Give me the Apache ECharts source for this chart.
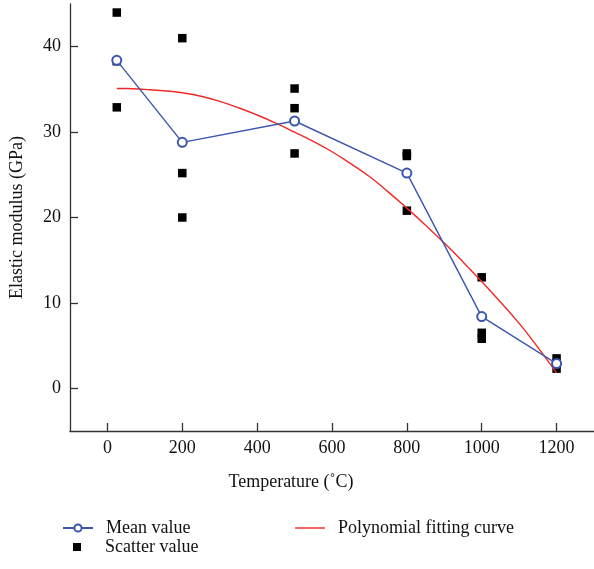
<!DOCTYPE html>
<html>
<head>
<meta charset="utf-8">
<script src="https://cdn.jsdelivr.net/npm/echarts@6/dist/echarts.min.js"></script>
<style>html,body{margin:0;padding:0;background:#fff;}#c{width:594px;height:569px;}</style>
</head>
<body>
<div id="c"></div>
<script>
// Temperatures (°C)
const temperatures = [25, 200, 500, 800, 1000, 1200];
// Mean elastic modulus (GPa)
const meanValues = [38.4, 28.8, 31.3, 25.2, 8.4, 2.9];
// Individual scatter measurements (three specimens per temperature)
const scatterA = [44.0, 41.0, 35.1, 27.5, 13.0, 3.5];
const scatterB = [38.3, 25.2, 32.8, 27.2, 6.5, 2.9];
const scatterC = [32.9, 20.0, 27.5, 20.8, 5.8, 2.3];
// Polynomial fitting curve
const fitX = [25, 50, 100, 150, 200, 250, 300, 350, 400, 450, 500, 550, 600, 650,
              700, 750, 800, 850, 900, 950, 1000, 1050, 1100, 1150, 1200];
const fitY = [35.1, 35.1, 35.0, 34.85, 34.6, 34.2, 33.6, 32.85, 32.0, 31.05, 30.0, 28.9, 27.7, 26.3,
              24.8, 23.0, 21.1, 19.1, 17.0, 14.8, 12.5, 10.1, 7.6, 4.8, 1.8];
// Tick labels
const xTicks = [0, 200, 400, 600, 800, 1000, 1200];
const yTicks = [0, 10, 20, 30, 40];

const FONT = 'Liberation Serif';
const BLUE = '#3b56ad';
const RED = '#f02828';
const AXIS = '#333333';

const scatterData = [];
[scatterA, scatterB, scatterC].forEach(arr => {
  arr.forEach((v, i) => scatterData.push([temperatures[i], v]));
});
const meanData = temperatures.map((t, i) => [t, meanValues[i]]);
const fitData = fitX.map((t, i) => [t, fitY[i]]);

const chart = echarts.init(document.getElementById('c'), null, {renderer: 'canvas'});
const legendText = {fontFamily: FONT, fontSize: 18, color: '#111', padding: [0, 0, 0, 8]};
chart.setOption({
  animation: false,
  backgroundColor: '#fff',
  grid: {left: 69, top: 4, width: 530, height: 427, containLabel: false},
  xAxis: {
    type: 'value', min: -100, max: 1300,
    name: 'Temperature (\u02DAC)', nameLocation: 'middle', nameGap: 42,
    nameTextStyle: {fontFamily: FONT, fontSize: 18, color: '#111', padding: [0, 82, 0, 0]},
    axisLine: {show: true, onZero: false, lineStyle: {color: AXIS, width: 1.3}},
    axisTick: {show: true, inside: true, length: 8, lineStyle: {color: AXIS, width: 1.3}, customValues: xTicks},
    axisLabel: {fontFamily: FONT, fontSize: 18, color: '#111', margin: 8, customValues: xTicks, formatter: v => String(v)},
    splitLine: {show: false}
  },
  yAxis: {
    type: 'value', min: -5, max: 45,
    name: 'Elastic modulus (GPa)', nameLocation: 'middle', nameGap: 44,
    nameTextStyle: {fontFamily: FONT, fontSize: 18, color: '#111'},
    axisLine: {show: true, onZero: false, lineStyle: {color: AXIS, width: 1.3}},
    axisTick: {show: true, inside: true, length: 8, lineStyle: {color: AXIS, width: 1.3}, customValues: yTicks},
    axisLabel: {fontFamily: FONT, fontSize: 18, color: '#111', margin: 9, customValues: yTicks, formatter: v => String(v)},
    splitLine: {show: false}
  },
  legend: [
    {data: ['Mean value'], left: 57, top: 514, itemWidth: 30, itemHeight: 9, textStyle: legendText},
    {data: [{name: 'Polynomial fitting curve', icon: 'rect'}], left: 290, top: 514, itemWidth: 30, itemHeight: 1.4, textStyle: legendText},
    {data: [{name: 'Scatter value', icon: 'rect'}], left: 68, top: 533, itemWidth: 8, itemHeight: 8,
     textStyle: Object.assign({}, legendText, {padding: [0, 0, 0, 19]})}
  ],
  series: [
    {
      name: 'Scatter value', type: 'scatter', data: scatterData,
      symbol: 'rect', symbolSize: 8.5,
      itemStyle: {color: '#000', opacity: 1}, z: 2
    },
    {
      name: 'Polynomial fitting curve', type: 'line', data: fitData,
      smooth: 0.5, showSymbol: false, symbol: 'none',
      lineStyle: {color: RED, width: 1.4}, itemStyle: {color: RED}, z: 3
    },
    {
      name: 'Mean value', type: 'line', data: meanData,
      symbol: 'emptyCircle', symbolSize: 9,
      lineStyle: {color: BLUE, width: 1.4},
      itemStyle: {color: BLUE, borderColor: BLUE, borderWidth: 1.4}, z: 4
    }
  ]
});
</script>
</body>
</html>
